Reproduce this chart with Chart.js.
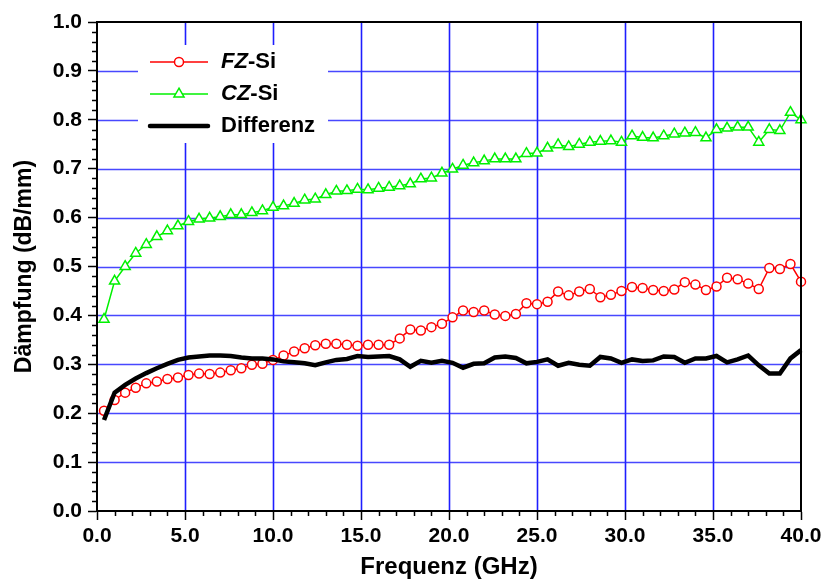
<!DOCTYPE html>
<html lang="de">
<head>
<meta charset="utf-8">
<title>Dämpfung FZ-Si / CZ-Si</title>
<script src="https://cdn.jsdelivr.net/npm/chart.js@4.4.1/dist/chart.umd.min.js"></script>
<style>
  html, body { margin: 0; padding: 0; background: #fff; }
  #wrap { width: 823px; height: 583px; }
</style>
</head>
<body>
<div id="wrap"><canvas id="chartDaempfung" width="823" height="583"></canvas></div>
<script>
// Frequenzpunkte (GHz)
const freq = [
  0.4, 1.0, 1.6, 2.2, 2.8, 3.4, 4.0, 4.6, 5.2, 5.8,
  6.4, 7.0, 7.6, 8.2, 8.8, 9.4, 10.0, 10.6, 11.2, 11.8,
  12.4, 13.0, 13.6, 14.2, 14.8, 15.4, 16.0, 16.6, 17.2, 17.8,
  18.4, 19.0, 19.6, 20.2, 20.8, 21.4, 22.0, 22.6, 23.2, 23.8,
  24.4, 25.0, 25.6, 26.2, 26.8, 27.4, 28.0, 28.6, 29.2, 29.8,
  30.4, 31.0, 31.6, 32.2, 32.8, 33.4, 34.0, 34.6, 35.2, 35.8,
  36.4, 37.0, 37.6, 38.2, 38.8, 39.4, 40.0
];

// Dämpfung (dB/mm)
const fzSi = [
  0.205, 0.227, 0.242, 0.252, 0.261, 0.265, 0.270, 0.273, 0.278, 0.281,
  0.280, 0.283, 0.288, 0.292, 0.299, 0.301, 0.309, 0.318, 0.326, 0.333,
  0.339, 0.342, 0.342, 0.340, 0.338, 0.340, 0.340, 0.340, 0.353, 0.371,
  0.369, 0.376, 0.383, 0.396, 0.410, 0.407, 0.410, 0.402, 0.399, 0.403,
  0.425, 0.423, 0.428, 0.449, 0.441, 0.449, 0.454, 0.437, 0.442, 0.450,
  0.458, 0.456, 0.452, 0.450, 0.453, 0.468, 0.463, 0.452, 0.459, 0.477,
  0.474, 0.465, 0.454, 0.497, 0.495, 0.505, 0.469
];

const czSi = [
  0.392, 0.470, 0.500, 0.527, 0.545, 0.561, 0.573, 0.583, 0.592, 0.597,
  0.599, 0.602, 0.606, 0.606, 0.610, 0.614, 0.621, 0.624, 0.629, 0.636,
  0.638, 0.647, 0.654, 0.655, 0.658, 0.657, 0.660, 0.662, 0.665, 0.669,
  0.679, 0.681, 0.691, 0.699, 0.707, 0.712, 0.716, 0.720, 0.720, 0.720,
  0.731, 0.732, 0.742, 0.749, 0.745, 0.750, 0.754, 0.756, 0.757, 0.754,
  0.767, 0.764, 0.763, 0.767, 0.771, 0.773, 0.774, 0.763, 0.780, 0.783,
  0.785, 0.785, 0.754, 0.780, 0.778, 0.815, 0.800
];

const differenz = [
  0.186, 0.242, 0.258, 0.271, 0.282, 0.292, 0.301, 0.309, 0.314, 0.316,
  0.318, 0.318, 0.317, 0.314, 0.312, 0.312, 0.310, 0.306, 0.304, 0.302,
  0.298, 0.304, 0.309, 0.311, 0.317, 0.315, 0.316, 0.317, 0.310, 0.295,
  0.307, 0.303, 0.307, 0.303, 0.293, 0.301, 0.302, 0.314, 0.316, 0.313,
  0.302, 0.305, 0.310, 0.297, 0.303, 0.299, 0.297, 0.315, 0.312, 0.303,
  0.310, 0.307, 0.308, 0.316, 0.315, 0.303, 0.312, 0.312, 0.317, 0.304,
  0.310, 0.318, 0.298, 0.281, 0.281, 0.312, 0.329
];

const FONT = "'Liberation Sans', Arial, sans-serif";
Chart.defaults.font.family = FONT;
Chart.defaults.font.weight = 'bold';
Chart.defaults.color = '#000';

function pts(ys) {
  return ys.map((y, i) => ({ x: freq[i], y: y }));
}

// Gitterlinien, kleine Zwischenstriche, Rahmen
const rahmenPlugin = {
  id: 'rahmen',
  beforeDatasetsDraw(chart) {
    const { ctx, chartArea: a, scales } = chart;
    ctx.save();
    ctx.lineWidth = 1.6;
    ctx.strokeStyle = 'rgb(30,30,255)';
    ctx.beginPath();
    for (let v = 5; v < 40; v += 5) {
      const px = Math.round(scales.x.getPixelForValue(v)) + 0.5;
      ctx.moveTo(px, a.top);
      ctx.lineTo(px, a.bottom);
    }
    ctx.stroke();
    ctx.lineWidth = 1.5;
    ctx.strokeStyle = 'rgba(40,40,255,0.85)';
    ctx.beginPath();
    for (let k = 1; k < 10; k++) {
      const py = Math.round(scales.y.getPixelForValue(k / 10)) + 0.5;
      ctx.moveTo(a.left, py);
      ctx.lineTo(a.right, py);
    }
    ctx.stroke();
    ctx.restore();
  },
  afterDraw(chart) {
    const { ctx, chartArea: a, scales } = chart;
    ctx.save();
    ctx.strokeStyle = '#000';
    ctx.lineWidth = 1.5;
    ctx.beginPath();
    for (let v = 1; v < 40; v++) {
      if (v % 5 === 0) continue;
      const px = Math.round(scales.x.getPixelForValue(v)) + 0.5;
      ctx.moveTo(px, a.bottom);
      ctx.lineTo(px, a.bottom + 5);
    }
    for (let k = 1; k < 50; k++) {
      if (k % 5 === 0) continue;
      const py = Math.round(scales.y.getPixelForValue(k * 0.02)) + 0.5;
      ctx.moveTo(a.left - 5, py);
      ctx.lineTo(a.left, py);
    }
    ctx.stroke();
    ctx.lineWidth = 2;
    ctx.strokeRect(a.left, a.top, a.right - a.left, a.bottom - a.top);
    ctx.restore();
  }
};

// Legende oben links im Diagramm
const legendePlugin = {
  id: 'legende',
  beforeDatasetsDraw(chart) {
    const { ctx } = chart;
    const x0 = 138, y0 = 45, w = 190, h = 98;
    ctx.save();
    ctx.fillStyle = '#fff';
    ctx.fillRect(x0, y0, w, h);
    const rows = [62, 94, 126];
    chart.data.datasets.forEach((ds, i) => {
      const y = rows[i];
      ctx.strokeStyle = ds.borderColor;
      ctx.lineWidth = ds.borderWidth;
      ctx.lineCap = i === 2 ? 'round' : 'butt';
      ctx.beginPath();
      ctx.moveTo(150, y);
      ctx.lineTo(208, y);
      ctx.stroke();
      if (ds.pointRadius > 0) {
        const r = ds.pointRadius;
        ctx.fillStyle = '#fff';
        ctx.lineWidth = ds.pointBorderWidth;
        ctx.beginPath();
        if (ds.pointStyle === 'circle') {
          ctx.arc(179, y, r, 0, Math.PI * 2);
        } else {
          ctx.moveTo(179, y - r);
          ctx.lineTo(179 + r * 0.866, y + r / 2);
          ctx.lineTo(179 - r * 0.866, y + r / 2);
          ctx.closePath();
        }
        ctx.fill();
        ctx.stroke();
      }
      ctx.fillStyle = '#000';
      ctx.textBaseline = 'middle';
      ctx.textAlign = 'left';
      let tx = 221;
      if (i < 2) {
        const head = i === 0 ? 'FZ' : 'CZ';
        ctx.font = 'italic bold 22px ' + FONT;
        ctx.fillText(head, tx, y);
        tx += ctx.measureText(head).width;
        ctx.font = 'bold 22px ' + FONT;
        ctx.fillText('-Si', tx, y);
      } else {
        ctx.font = 'bold 22px ' + FONT;
        ctx.fillText('Differenz', tx, y);
      }
    });
    ctx.restore();
  }
};

function renderDaempfung() {
  const ctx = document.getElementById('chartDaempfung');
  new Chart(ctx, {
    type: 'line',
    data: {
      datasets: [
        {
          label: 'FZ-Si',
          data: pts(fzSi),
          borderColor: '#ff0000',
          borderWidth: 1.5,
          pointStyle: 'circle',
          pointRadius: 4.5,
          pointBorderWidth: 1.5,
          pointBackgroundColor: '#fff',
          pointBorderColor: '#ff0000',
          tension: 0,
          clip: false,
          order: 1
        },
        {
          label: 'CZ-Si',
          data: pts(czSi),
          borderColor: '#00f000',
          borderWidth: 1.5,
          pointStyle: 'triangle',
          pointRadius: 5.8,
          pointBorderWidth: 1.5,
          pointBackgroundColor: '#fff',
          pointBorderColor: '#00f000',
          tension: 0,
          clip: false,
          order: 2
        },
        {
          label: 'Differenz',
          data: pts(differenz),
          borderColor: '#000',
          borderWidth: 4.5,
          pointRadius: 0,
          tension: 0,
          clip: false,
          order: 0
        }
      ]
    },
    options: {
      responsive: false,
      animation: false,
      devicePixelRatio: 1,
      layout: { padding: { top: 22, right: 22, left: 0, bottom: 0 } },
      plugins: { legend: { display: false }, tooltip: { enabled: false } },
      scales: {
        x: {
          type: 'linear',
          min: 0,
          max: 40,
          afterFit: (s) => { s.height = 72; s.paddingLeft = 0; s.paddingRight = 0; },
          ticks: { stepSize: 5, padding: 4, maxRotation: 0, font: { size: 21, weight: 'bold' }, callback: (v) => v.toFixed(1) },
          grid: { drawOnChartArea: false, tickLength: 9, tickColor: '#000', tickWidth: 1.5 },
          border: { color: '#000', width: 2 },
          title: { display: true, text: 'Frequenz (GHz)', font: { size: 24, weight: 'bold' }, padding: { top: 0, bottom: 1 } }
        },
        y: {
          min: 0,
          max: 1,
          afterFit: (s) => { s.width = 97; s.paddingTop = 0; s.paddingBottom = 0; },
          ticks: { stepSize: 0.1, padding: 6, font: { size: 21, weight: 'bold' }, callback: (v) => v.toFixed(1) },
          grid: { drawOnChartArea: false, tickLength: 9, tickColor: '#000', tickWidth: 1.5 },
          border: { color: '#000', width: 2 },
          title: { display: true, text: 'Dämpfung (dB/mm)', font: { size: 23, weight: 'bold' }, padding: { top: 11, bottom: 0 } }
        }
      }
    },
    plugins: [rahmenPlugin, legendePlugin]
  });
}

renderDaempfung();
</script>
</body>
</html>
